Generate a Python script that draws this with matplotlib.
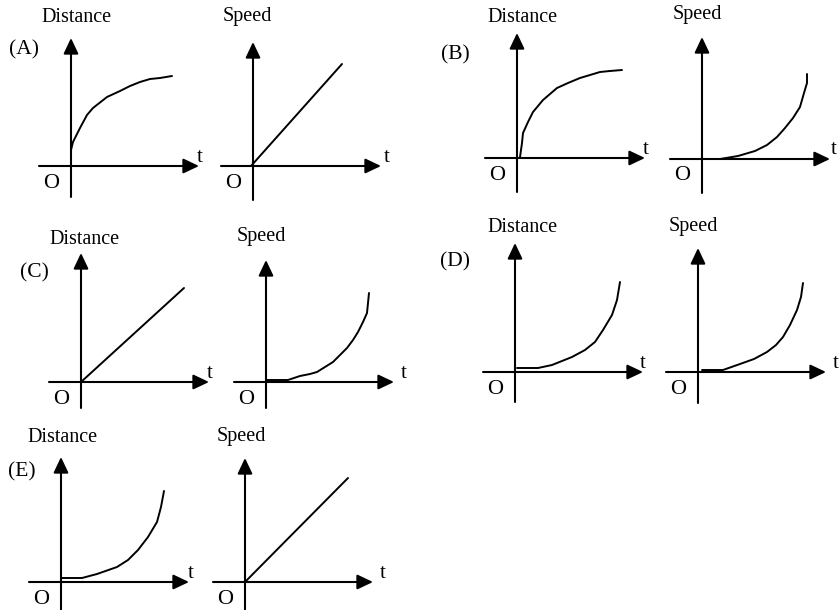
import matplotlib
matplotlib.use('Agg')
import matplotlib.pyplot as plt

plt.rcParams['font.family'] = ['Liberation Serif', 'DejaVu Serif']

# panel letters and where they sit (pixels)
panel_names = ['(A)', '(B)', '(C)', '(D)', '(E)']
letter_pos = [(24, 50), (455, 55), (34, 273), (455, 262), (22, 472)]

# origins of the two little graphs per option (pixels, y down)
dist_origin = [(71, 166), (517, 158), (81, 382), (515, 372), (61, 582)]
speed_origin = [(253, 166), (702, 159), (266, 382), (698, 372), (245, 582)]

# axis heights above / below the origin
dist_top = [128, 125, 129, 129, 125]
speed_top = [124, 122, 122, 124, 124]
dist_bottom = [31, 34, 26, 30, 30]
speed_bottom = [34, 34, 26, 31, 30]

# gap between arrow tip and the "t"
dist_t_gap = [1, 1, 1, 0, 2]
speed_t_gap = [6, 4, 10, 10, 10]

# title positions of "Distance" / "Speed"
dist_label_pos = [(76, 18), (522, 17), (85, 240), (522, 228), (63, 438)]
speed_label_pos = [(247, 17), (697, 15), (261, 237), (693, 227), (241, 437)]

# curves: (t, value) offsets from the origin
dist_t = [
    [0, 2, 9, 16, 22, 36, 49, 59, 69, 79, 89, 101],
    [3, 5, 6, 11, 16, 26, 40, 51, 63, 83, 93, 105],
    [0, 103],
    [2, 23, 37, 57, 70, 80, 88, 97, 102, 105],
    [1, 21, 36, 56, 67, 77, 87, 96, 100, 103],
]
dist_v = [
    [16, 24, 38, 51, 58, 69, 75, 80, 84, 87, 88, 90],
    [1, 15, 25, 36, 46, 58, 70, 75, 80, 86, 87, 88],
    [0, 94],
    [4, 4, 7, 15, 22, 30, 42, 57, 72, 90],
    [4, 4, 8, 15, 22, 32, 45, 60, 75, 91],
]
speed_t = [
    [-2, 89],
    [0, 18, 36, 53, 65, 75, 83, 91, 98, 102, 105, 105],
    [1, 22, 34, 44, 51, 59, 67, 74, 81, 87, 92, 97, 101, 103],
    [4, 25, 42, 56, 69, 78, 85, 92, 99, 103, 105],
    [0, 103],
]
speed_v = [
    [0, 102],
    [0, 0, 3, 8, 14, 22, 31, 41, 52, 66, 76, 85],
    [2, 2, 6, 8, 10, 15, 20, 27, 34, 42, 50, 60, 69, 89],
    [2, 2, 8, 13, 20, 27, 35, 47, 62, 75, 89],
    [0, 104],
]

fig = plt.figure(figsize=(8.39, 6.10), dpi=100)
ax = fig.add_axes([0, 0, 1, 1])
ax.set_xlim(0, 839)
ax.set_ylim(610, 0)
ax.axis('off')

arrow = dict(arrowstyle='-|>,head_length=0.95,head_width=0.45', color='k',
             lw=1.5, mutation_scale=10, shrinkA=0, shrinkB=0)


def graph(origin, top, bottom, ts, vs, t_gap):
    ox, oy = origin
    # axes with arrows
    ax.annotate('', xy=(ox + 128, oy), xytext=(ox - 32, oy), arrowprops=arrow)
    ax.annotate('', xy=(ox, oy - top), xytext=(ox, oy + bottom), arrowprops=arrow)
    ax.plot([ox + t for t in ts], [oy - v for v in vs], color='k', lw=1.4,
            solid_joinstyle='round', solid_capstyle='round')
    ax.text(ox + 128 + t_gap, oy - 9, 't', fontsize=15, ha='center', va='center')
    ax.text(ox - 20, oy + 17, 'O', fontsize=16, ha='center', va='center')


for i in range(len(panel_names)):
    graph(dist_origin[i], dist_top[i], dist_bottom[i], dist_t[i], dist_v[i], dist_t_gap[i])
    graph(speed_origin[i], speed_top[i], speed_bottom[i], speed_t[i], speed_v[i], speed_t_gap[i])
    ax.text(*dist_label_pos[i], 'Distance', fontsize=14.5, ha='center', va='center')
    ax.text(*speed_label_pos[i], 'Speed', fontsize=14.5, ha='center', va='center')
    ax.text(*letter_pos[i], panel_names[i], fontsize=15.5, ha='center', va='center')

fig.savefig('out.png', dpi=100)
plt.close()
